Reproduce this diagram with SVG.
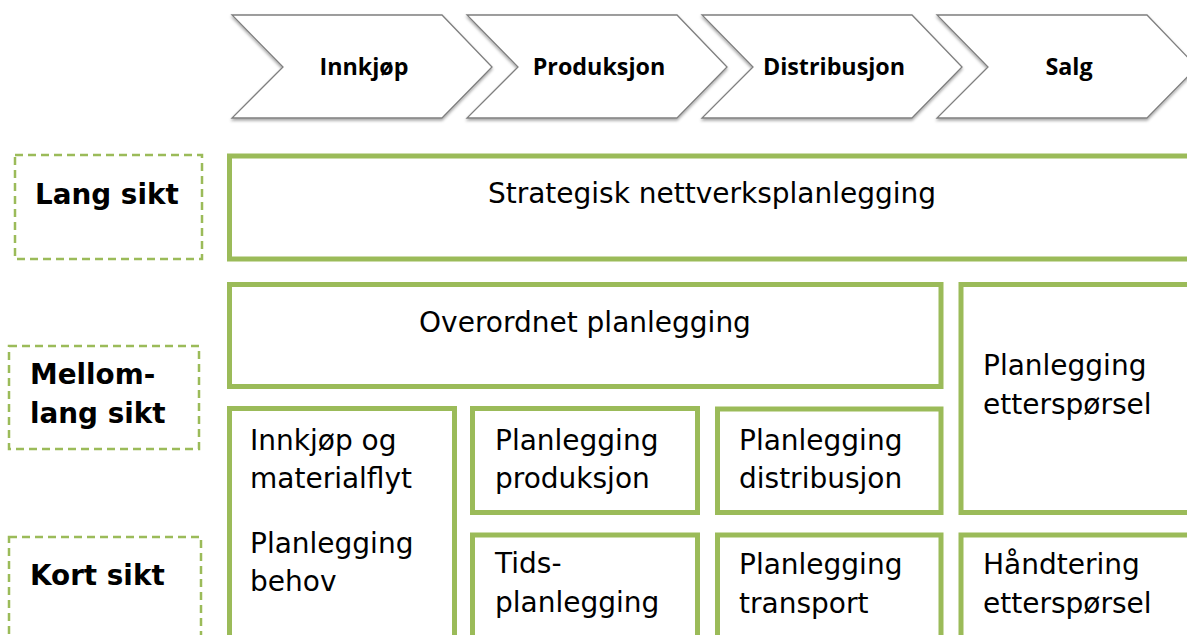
<svg xmlns="http://www.w3.org/2000/svg" width="1187" height="635" viewBox="0 0 1187 635">
<defs>
<filter id="sh" x="-5%" y="-5%" width="110%" height="115%">
<feDropShadow dx="0" dy="2" stdDeviation="1.5" flood-color="#000" flood-opacity="0.35"/>
</filter>
<style>
.chev{fill:#fff;stroke:#7f7f7f;stroke-width:1.3;filter:url(#sh)}
.ct{font-family:"Open Sans","Liberation Sans",sans-serif;font-weight:bold;font-size:23.3px;fill:#000;text-anchor:middle}
.box{fill:#fff;stroke:#9BBB59;stroke-width:5}
.dash{fill:none;stroke:#9BBB59;stroke-width:2.5;stroke-dasharray:8 5}
.lt{font-family:"DejaVu Sans",Verdana,sans-serif;font-weight:bold;font-size:27.8px;fill:#000}
.bt{font-family:"DejaVu Sans",Verdana,sans-serif;font-size:28px;fill:#000}
</style>
</defs>
<rect width="1187" height="635" fill="#fff"/>
<g id="chevrons">
<g id="c1"><polygon class="chev" points="232,15 442,15 492,67 442,118 232,118 283,67"/><text class="ct" x="364" y="75">Innkjøp</text></g>
<g id="c2"><polygon class="chev" points="467,15 677,15 727,67 677,118 467,118 518,67"/><text class="ct" x="599" y="75">Produksjon</text></g>
<g id="c3"><polygon class="chev" points="702,15 912,15 962,67 912,118 702,118 753,67"/><text class="ct" x="834" y="75">Distribusjon</text></g>
<g id="c4"><polygon class="chev" points="937,15 1147,15 1197,67 1147,118 937,118 988,67"/><text class="ct" x="1069" y="75">Salg</text></g>
</g>
<g id="lang"><rect class="dash" x="15" y="155" width="187" height="104"/><text class="lt" x="35" y="204">Lang sikt</text></g>
<g id="mellom"><rect class="dash" x="9" y="346" width="190" height="103"/><text class="lt" x="30" y="384">Mellom-</text><text class="lt" x="30" y="423">lang sikt</text></g>
<g id="kort"><rect class="dash" x="9" y="537" width="192" height="110"/><text class="lt" x="30" y="585">Kort sikt</text></g>
<g id="strategisk"><rect class="box" x="229.5" y="156" width="980" height="103"/><text class="bt" x="712" y="203" text-anchor="middle">Strategisk nettverksplanlegging</text></g>
<g id="overordnet"><rect class="box" x="229.5" y="284.5" width="711.5" height="102"/><text class="bt" x="585" y="332" text-anchor="middle">Overordnet planlegging</text></g>
<g id="ettersporsel"><rect class="box" x="961" y="284.5" width="250" height="228"/><text class="bt" x="983" y="375">Planlegging</text><text class="bt" x="983" y="414">etterspørsel</text></g>
<g id="innkjop"><rect class="box" x="229.5" y="408.5" width="225" height="250"/><text class="bt" x="250" y="450">Innkjøp og</text><text class="bt" x="250" y="488">materialflyt</text><text class="bt" x="250" y="553">Planlegging</text><text class="bt" x="250" y="591">behov</text></g>
<g id="produksjon"><rect class="box" x="472.5" y="408.5" width="225" height="104"/><text class="bt" x="495" y="450">Planlegging</text><text class="bt" x="495" y="488">produksjon</text></g>
<g id="distribusjon"><rect class="box" x="717.5" y="409" width="223.5" height="103.5"/><text class="bt" x="739" y="450">Planlegging</text><text class="bt" x="739" y="488">distribusjon</text></g>
<g id="tids"><rect class="box" x="472.5" y="535" width="225" height="120"/><text class="bt" x="495" y="573">Tids-</text><text class="bt" x="495" y="612">planlegging</text></g>
<g id="transport"><rect class="box" x="717.5" y="535" width="223.5" height="120"/><text class="bt" x="739" y="574">Planlegging</text><text class="bt" x="739" y="613">transport</text></g>
<g id="handtering"><rect class="box" x="961" y="535" width="250" height="120"/><text class="bt" x="983" y="574">Håndtering</text><text class="bt" x="983" y="613">etterspørsel</text></g>
<g id="connectors"/>
</svg>
